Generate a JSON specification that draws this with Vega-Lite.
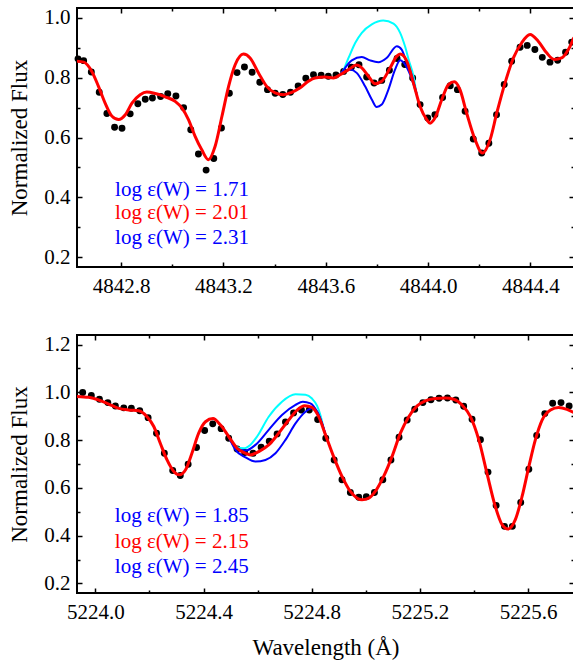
{
  "$schema": "https://vega.github.io/schema/vega-lite/v6.json",
  "padding": {"left": 7, "top": 5, "right": 0, "bottom": 0},
  "spacing": 35,
  "config": {
    "view": {"stroke": "black", "strokeWidth": 2},
    "font": "Liberation Serif",
    "text": {"font": "Liberation Serif"},
    "axis": {"labelFont": "Liberation Serif", "labelFontSize": 21, "labelColor": "black", "titleFont": "Liberation Serif", "titleFontSize": 23, "titleFontWeight": "normal", "titleColor": "black", "domain": false, "grid": false, "tickColor": "black", "tickWidth": 1.5}
  },
  "datasets": {
    "top_dots": [
      {"wl": 4842.631, "flux": 0.863}, {"wl": 4842.653, "flux": 0.857}, {"wl": 4842.683, "flux": 0.819}, {"wl": 4842.714, "flux": 0.751},
      {"wl": 4842.744, "flux": 0.680}, {"wl": 4842.774, "flux": 0.634}, {"wl": 4842.803, "flux": 0.631}, {"wl": 4842.835, "flux": 0.679},
      {"wl": 4842.865, "flux": 0.713}, {"wl": 4842.894, "flux": 0.728}, {"wl": 4842.922, "flux": 0.732}, {"wl": 4842.954, "flux": 0.737},
      {"wl": 4842.982, "flux": 0.746}, {"wl": 4843.014, "flux": 0.739}, {"wl": 4843.044, "flux": 0.700}, {"wl": 4843.072, "flux": 0.626},
      {"wl": 4843.102, "flux": 0.545}, {"wl": 4843.132, "flux": 0.491}, {"wl": 4843.162, "flux": 0.530}, {"wl": 4843.192, "flux": 0.632},
      {"wl": 4843.223, "flux": 0.748}, {"wl": 4843.253, "flux": 0.817}, {"wl": 4843.282, "flux": 0.836}, {"wl": 4843.312, "flux": 0.818},
      {"wl": 4843.342, "flux": 0.785}, {"wl": 4843.372, "flux": 0.760}, {"wl": 4843.402, "flux": 0.748}, {"wl": 4843.432, "flux": 0.744},
      {"wl": 4843.462, "flux": 0.751}, {"wl": 4843.492, "flux": 0.772}, {"wl": 4843.522, "flux": 0.798}, {"wl": 4843.552, "flux": 0.810},
      {"wl": 4843.582, "flux": 0.808}, {"wl": 4843.610, "flux": 0.805}, {"wl": 4843.640, "flux": 0.809}, {"wl": 4843.670, "flux": 0.821},
      {"wl": 4843.700, "flux": 0.835}, {"wl": 4843.730, "flux": 0.843}, {"wl": 4843.760, "flux": 0.802}, {"wl": 4843.789, "flux": 0.782},
      {"wl": 4843.819, "flux": 0.791}, {"wl": 4843.849, "flux": 0.825}, {"wl": 4843.879, "flux": 0.864}, {"wl": 4843.909, "flux": 0.844},
      {"wl": 4843.940, "flux": 0.799}, {"wl": 4843.969, "flux": 0.710}, {"wl": 4843.999, "flux": 0.665}, {"wl": 4844.027, "flux": 0.676},
      {"wl": 4844.057, "flux": 0.734}, {"wl": 4844.087, "flux": 0.773}, {"wl": 4844.115, "flux": 0.760}, {"wl": 4844.145, "flux": 0.688},
      {"wl": 4844.177, "flux": 0.595}, {"wl": 4844.210, "flux": 0.548}, {"wl": 4844.238, "flux": 0.581}, {"wl": 4844.268, "flux": 0.676},
      {"wl": 4844.298, "flux": 0.777}, {"wl": 4844.327, "flux": 0.855}, {"wl": 4844.360, "flux": 0.902}, {"wl": 4844.388, "flux": 0.908},
      {"wl": 4844.418, "flux": 0.894}, {"wl": 4844.447, "flux": 0.868}, {"wl": 4844.477, "flux": 0.852}, {"wl": 4844.507, "flux": 0.858},
      {"wl": 4844.538, "flux": 0.885}, {"wl": 4844.562, "flux": 0.919}
    ],
    "top_models": [
      {"model": "best", "wl": 4842.627, "flux": 0.855}, {"model": "best", "wl": 4842.653, "flux": 0.852}, {"model": "best", "wl": 4842.685, "flux": 0.821},
      {"model": "best", "wl": 4842.711, "flux": 0.771}, {"model": "best", "wl": 4842.737, "flux": 0.715}, {"model": "best", "wl": 4842.764, "flux": 0.671},
      {"model": "best", "wl": 4842.790, "flux": 0.660}, {"model": "best", "wl": 4842.816, "flux": 0.676}, {"model": "best", "wl": 4842.842, "flux": 0.715},
      {"model": "best", "wl": 4842.874, "flux": 0.743}, {"model": "best", "wl": 4842.900, "flux": 0.752}, {"model": "best", "wl": 4842.933, "flux": 0.747},
      {"model": "best", "wl": 4842.972, "flux": 0.736}, {"model": "best", "wl": 4843.011, "flux": 0.721}, {"model": "best", "wl": 4843.037, "flux": 0.699},
      {"model": "best", "wl": 4843.063, "flux": 0.660}, {"model": "best", "wl": 4843.089, "flux": 0.604}, {"model": "best", "wl": 4843.115, "flux": 0.559},
      {"model": "best", "wl": 4843.141, "flux": 0.526}, {"model": "best", "wl": 4843.167, "flux": 0.570}, {"model": "best", "wl": 4843.194, "flux": 0.671},
      {"model": "best", "wl": 4843.220, "flux": 0.771}, {"model": "best", "wl": 4843.246, "flux": 0.844}, {"model": "best", "wl": 4843.278, "flux": 0.879},
      {"model": "best", "wl": 4843.304, "flux": 0.866}, {"model": "best", "wl": 4843.337, "flux": 0.816}, {"model": "best", "wl": 4843.369, "flux": 0.771},
      {"model": "best", "wl": 4843.402, "flux": 0.749}, {"model": "best", "wl": 4843.435, "flux": 0.743}, {"model": "best", "wl": 4843.467, "flux": 0.751},
      {"model": "best", "wl": 4843.500, "flux": 0.766}, {"model": "best", "wl": 4843.532, "flux": 0.788}, {"model": "best", "wl": 4843.558, "flux": 0.799},
      {"model": "best", "wl": 4843.597, "flux": 0.802}, {"model": "best", "wl": 4843.630, "flux": 0.799}, {"model": "best", "wl": 4843.656, "flux": 0.810},
      {"model": "best", "wl": 4843.689, "flux": 0.827}, {"model": "best", "wl": 4843.721, "flux": 0.842}, {"model": "best", "wl": 4843.741, "flux": 0.833},
      {"model": "best", "wl": 4843.767, "flux": 0.805}, {"model": "best", "wl": 4843.793, "flux": 0.780}, {"model": "best", "wl": 4843.819, "flux": 0.788},
      {"model": "best", "wl": 4843.852, "flux": 0.833}, {"model": "best", "wl": 4843.878, "flux": 0.872}, {"model": "best", "wl": 4843.891, "flux": 0.879},
      {"model": "best", "wl": 4843.917, "flux": 0.855}, {"model": "best", "wl": 4843.943, "flux": 0.782}, {"model": "best", "wl": 4843.969, "flux": 0.704},
      {"model": "best", "wl": 4843.995, "flux": 0.660}, {"model": "best", "wl": 4844.008, "flux": 0.648}, {"model": "best", "wl": 4844.027, "flux": 0.665},
      {"model": "best", "wl": 4844.054, "flux": 0.727}, {"model": "best", "wl": 4844.080, "flux": 0.777}, {"model": "best", "wl": 4844.103, "flux": 0.786},
      {"model": "best", "wl": 4844.125, "flux": 0.760}, {"model": "best", "wl": 4844.151, "flux": 0.682}, {"model": "best", "wl": 4844.184, "flux": 0.593},
      {"model": "best", "wl": 4844.213, "flux": 0.548}, {"model": "best", "wl": 4844.243, "flux": 0.593}, {"model": "best", "wl": 4844.269, "flux": 0.682},
      {"model": "best", "wl": 4844.301, "flux": 0.782}, {"model": "best", "wl": 4844.334, "flux": 0.866}, {"model": "best", "wl": 4844.366, "flux": 0.916},
      {"model": "best", "wl": 4844.399, "flux": 0.944}, {"model": "best", "wl": 4844.431, "flux": 0.922}, {"model": "best", "wl": 4844.464, "flux": 0.883},
      {"model": "best", "wl": 4844.494, "flux": 0.861}, {"model": "best", "wl": 4844.523, "flux": 0.866}, {"model": "best", "wl": 4844.549, "flux": 0.894},
      {"model": "best", "wl": 4844.571, "flux": 0.935},
      {"model": "none", "wl": 4843.656, "flux": 0.810}, {"model": "none", "wl": 4843.663, "flux": 0.816}, {"model": "none", "wl": 4843.689, "flux": 0.866},
      {"model": "none", "wl": 4843.715, "flux": 0.916}, {"model": "none", "wl": 4843.741, "flux": 0.950}, {"model": "none", "wl": 4843.780, "flux": 0.978},
      {"model": "none", "wl": 4843.825, "flux": 0.991}, {"model": "none", "wl": 4843.865, "flux": 0.981}, {"model": "none", "wl": 4843.891, "flux": 0.950},
      {"model": "none", "wl": 4843.910, "flux": 0.905}, {"model": "none", "wl": 4843.926, "flux": 0.855}, {"model": "none", "wl": 4843.943, "flux": 0.805},
      {"model": "none", "wl": 4843.955, "flux": 0.746},
      {"model": "low", "wl": 4843.656, "flux": 0.810}, {"model": "low", "wl": 4843.663, "flux": 0.818}, {"model": "low", "wl": 4843.702, "flux": 0.858},
      {"model": "low", "wl": 4843.741, "flux": 0.869}, {"model": "low", "wl": 4843.773, "flux": 0.858}, {"model": "low", "wl": 4843.806, "flux": 0.852},
      {"model": "low", "wl": 4843.838, "flux": 0.866}, {"model": "low", "wl": 4843.878, "flux": 0.905}, {"model": "low", "wl": 4843.897, "flux": 0.894},
      {"model": "low", "wl": 4843.917, "flux": 0.849}, {"model": "low", "wl": 4843.936, "flux": 0.810}, {"model": "low", "wl": 4843.955, "flux": 0.746},
      {"model": "high", "wl": 4843.656, "flux": 0.810}, {"model": "high", "wl": 4843.695, "flux": 0.827}, {"model": "high", "wl": 4843.721, "flux": 0.816},
      {"model": "high", "wl": 4843.754, "flux": 0.771}, {"model": "high", "wl": 4843.780, "flux": 0.727}, {"model": "high", "wl": 4843.799, "flux": 0.702},
      {"model": "high", "wl": 4843.819, "flux": 0.710}, {"model": "high", "wl": 4843.845, "flux": 0.760}, {"model": "high", "wl": 4843.871, "flux": 0.827},
      {"model": "high", "wl": 4843.891, "flux": 0.858}, {"model": "high", "wl": 4843.910, "flux": 0.844}, {"model": "high", "wl": 4843.930, "flux": 0.810},
      {"model": "high", "wl": 4843.955, "flux": 0.746}
    ],
    "top_labels": [
      {"wl": 4842.776, "flux": 0.406, "model": "low", "label": "log ε(W) = 1.71"},
      {"wl": 4842.776, "flux": 0.326, "model": "best", "label": "log ε(W) = 2.01"},
      {"wl": 4842.776, "flux": 0.243, "model": "high", "label": "log ε(W) = 2.31"}
    ],
    "bot_dots": [
      {"wl": 5223.953, "flux": 0.999}, {"wl": 5223.985, "flux": 0.987}, {"wl": 5224.015, "flux": 0.971}, {"wl": 5224.046, "flux": 0.957},
      {"wl": 5224.074, "flux": 0.943}, {"wl": 5224.105, "flux": 0.935}, {"wl": 5224.133, "flux": 0.933}, {"wl": 5224.164, "flux": 0.923},
      {"wl": 5224.195, "flux": 0.894}, {"wl": 5224.226, "flux": 0.829}, {"wl": 5224.255, "flux": 0.745}, {"wl": 5224.286, "flux": 0.673},
      {"wl": 5224.314, "flux": 0.652}, {"wl": 5224.343, "flux": 0.699}, {"wl": 5224.374, "flux": 0.769}, {"wl": 5224.404, "flux": 0.840},
      {"wl": 5224.434, "flux": 0.868}, {"wl": 5224.465, "flux": 0.848}, {"wl": 5224.493, "flux": 0.808}, {"wl": 5224.524, "flux": 0.763},
      {"wl": 5224.552, "flux": 0.748}, {"wl": 5224.583, "flux": 0.745}, {"wl": 5224.613, "flux": 0.770}, {"wl": 5224.643, "flux": 0.795},
      {"wl": 5224.672, "flux": 0.826}, {"wl": 5224.703, "flux": 0.876}, {"wl": 5224.733, "flux": 0.914}, {"wl": 5224.762, "flux": 0.926},
      {"wl": 5224.791, "flux": 0.926}, {"wl": 5224.822, "flux": 0.886}, {"wl": 5224.852, "flux": 0.808}, {"wl": 5224.883, "flux": 0.717},
      {"wl": 5224.912, "flux": 0.634}, {"wl": 5224.943, "flux": 0.581}, {"wl": 5224.974, "flux": 0.561}, {"wl": 5225.002, "flux": 0.563},
      {"wl": 5225.032, "flux": 0.581}, {"wl": 5225.063, "flux": 0.634}, {"wl": 5225.093, "flux": 0.717}, {"wl": 5225.123, "flux": 0.812},
      {"wl": 5225.153, "flux": 0.884}, {"wl": 5225.181, "flux": 0.929}, {"wl": 5225.211, "flux": 0.957}, {"wl": 5225.241, "flux": 0.969},
      {"wl": 5225.271, "flux": 0.975}, {"wl": 5225.302, "flux": 0.976}, {"wl": 5225.333, "flux": 0.968}, {"wl": 5225.362, "flux": 0.942},
      {"wl": 5225.393, "flux": 0.887}, {"wl": 5225.424, "flux": 0.802}, {"wl": 5225.452, "flux": 0.666}, {"wl": 5225.482, "flux": 0.526},
      {"wl": 5225.513, "flux": 0.439}, {"wl": 5225.542, "flux": 0.439}, {"wl": 5225.573, "flux": 0.539}, {"wl": 5225.603, "flux": 0.678},
      {"wl": 5225.632, "flux": 0.819}, {"wl": 5225.662, "flux": 0.911}, {"wl": 5225.691, "flux": 0.954}, {"wl": 5225.722, "flux": 0.957},
      {"wl": 5225.752, "flux": 0.943}
    ],
    "bot_models": [
      {"model": "best", "wl": 5223.932, "flux": 0.983}, {"model": "best", "wl": 5223.975, "flux": 0.979}, {"model": "best", "wl": 5224.012, "flux": 0.968},
      {"model": "best", "wl": 5224.049, "flux": 0.951}, {"model": "best", "wl": 5224.086, "flux": 0.933}, {"model": "best", "wl": 5224.123, "flux": 0.926},
      {"model": "best", "wl": 5224.160, "flux": 0.923}, {"model": "best", "wl": 5224.191, "flux": 0.898}, {"model": "best", "wl": 5224.216, "flux": 0.857},
      {"model": "best", "wl": 5224.240, "flux": 0.787}, {"model": "best", "wl": 5224.265, "flux": 0.717}, {"model": "best", "wl": 5224.290, "flux": 0.669},
      {"model": "best", "wl": 5224.311, "flux": 0.655}, {"model": "best", "wl": 5224.333, "flux": 0.675}, {"model": "best", "wl": 5224.357, "flux": 0.745},
      {"model": "best", "wl": 5224.382, "flux": 0.829}, {"model": "best", "wl": 5224.407, "flux": 0.877}, {"model": "best", "wl": 5224.435, "flux": 0.890},
      {"model": "best", "wl": 5224.462, "flux": 0.864}, {"model": "best", "wl": 5224.493, "flux": 0.815}, {"model": "best", "wl": 5224.524, "flux": 0.766},
      {"model": "best", "wl": 5224.555, "flux": 0.745}, {"model": "best", "wl": 5224.573, "flux": 0.738}, {"model": "best", "wl": 5224.604, "flux": 0.752},
      {"model": "best", "wl": 5224.641, "flux": 0.780}, {"model": "best", "wl": 5224.678, "flux": 0.829}, {"model": "best", "wl": 5224.715, "flux": 0.884},
      {"model": "best", "wl": 5224.746, "flux": 0.926}, {"model": "best", "wl": 5224.774, "flux": 0.944}, {"model": "best", "wl": 5224.801, "flux": 0.937},
      {"model": "best", "wl": 5224.826, "flux": 0.898}, {"model": "best", "wl": 5224.851, "flux": 0.822}, {"model": "best", "wl": 5224.881, "flux": 0.731},
      {"model": "best", "wl": 5224.912, "flux": 0.648}, {"model": "best", "wl": 5224.943, "flux": 0.585}, {"model": "best", "wl": 5224.968, "flux": 0.557},
      {"model": "best", "wl": 5224.986, "flux": 0.550}, {"model": "best", "wl": 5225.011, "flux": 0.557}, {"model": "best", "wl": 5225.035, "flux": 0.585},
      {"model": "best", "wl": 5225.066, "flux": 0.648}, {"model": "best", "wl": 5225.097, "flux": 0.731}, {"model": "best", "wl": 5225.128, "flux": 0.829},
      {"model": "best", "wl": 5225.159, "flux": 0.898}, {"model": "best", "wl": 5225.190, "flux": 0.943}, {"model": "best", "wl": 5225.220, "flux": 0.964},
      {"model": "best", "wl": 5225.257, "flux": 0.974}, {"model": "best", "wl": 5225.294, "flux": 0.976}, {"model": "best", "wl": 5225.325, "flux": 0.971},
      {"model": "best", "wl": 5225.356, "flux": 0.947}, {"model": "best", "wl": 5225.387, "flux": 0.898}, {"model": "best", "wl": 5225.418, "flux": 0.801},
      {"model": "best", "wl": 5225.448, "flux": 0.662}, {"model": "best", "wl": 5225.479, "flux": 0.522}, {"model": "best", "wl": 5225.504, "flux": 0.446},
      {"model": "best", "wl": 5225.526, "flux": 0.428}, {"model": "best", "wl": 5225.553, "flux": 0.467}, {"model": "best", "wl": 5225.578, "flux": 0.564},
      {"model": "best", "wl": 5225.603, "flux": 0.689}, {"model": "best", "wl": 5225.627, "flux": 0.801}, {"model": "best", "wl": 5225.652, "flux": 0.884},
      {"model": "best", "wl": 5225.683, "flux": 0.926}, {"model": "best", "wl": 5225.713, "flux": 0.937}, {"model": "best", "wl": 5225.744, "flux": 0.929},
      {"model": "best", "wl": 5225.770, "flux": 0.915},
      {"model": "none", "wl": 5224.493, "flux": 0.815}, {"model": "none", "wl": 5224.518, "flux": 0.773}, {"model": "none", "wl": 5224.549, "flux": 0.766},
      {"model": "none", "wl": 5224.573, "flux": 0.780}, {"model": "none", "wl": 5224.598, "flux": 0.815}, {"model": "none", "wl": 5224.641, "flux": 0.898},
      {"model": "none", "wl": 5224.690, "flux": 0.961}, {"model": "none", "wl": 5224.740, "flux": 0.992}, {"model": "none", "wl": 5224.777, "flux": 0.990},
      {"model": "none", "wl": 5224.801, "flux": 0.974}, {"model": "none", "wl": 5224.820, "flux": 0.943}, {"model": "none", "wl": 5224.832, "flux": 0.905},
      {"model": "none", "wl": 5224.845, "flux": 0.845},
      {"model": "low", "wl": 5224.493, "flux": 0.815}, {"model": "low", "wl": 5224.518, "flux": 0.769}, {"model": "low", "wl": 5224.555, "flux": 0.756},
      {"model": "low", "wl": 5224.592, "flux": 0.780}, {"model": "low", "wl": 5224.641, "flux": 0.843}, {"model": "low", "wl": 5224.690, "flux": 0.905},
      {"model": "low", "wl": 5224.740, "flux": 0.947}, {"model": "low", "wl": 5224.767, "flux": 0.961}, {"model": "low", "wl": 5224.795, "flux": 0.954},
      {"model": "low", "wl": 5224.820, "flux": 0.919}, {"model": "low", "wl": 5224.838, "flux": 0.870}, {"model": "low", "wl": 5224.851, "flux": 0.822},
      {"model": "high", "wl": 5224.493, "flux": 0.815}, {"model": "high", "wl": 5224.518, "flux": 0.759}, {"model": "high", "wl": 5224.555, "flux": 0.728},
      {"model": "high", "wl": 5224.592, "flux": 0.710}, {"model": "high", "wl": 5224.629, "flux": 0.717}, {"model": "high", "wl": 5224.666, "flux": 0.745},
      {"model": "high", "wl": 5224.703, "flux": 0.801}, {"model": "high", "wl": 5224.740, "flux": 0.870}, {"model": "high", "wl": 5224.777, "flux": 0.919},
      {"model": "high", "wl": 5224.801, "flux": 0.933}, {"model": "high", "wl": 5224.820, "flux": 0.919}, {"model": "high", "wl": 5224.838, "flux": 0.870},
      {"model": "high", "wl": 5224.851, "flux": 0.822}
    ],
    "bot_labels": [
      {"wl": 5224.072, "flux": 0.459, "model": "low", "label": "log ε(W) = 1.85"},
      {"wl": 5224.072, "flux": 0.348, "model": "best", "label": "log ε(W) = 2.15"},
      {"wl": 5224.072, "flux": 0.244, "model": "high", "label": "log ε(W) = 2.45"}
    ]
  },
  "vconcat": [
    {
      "width": 497,
      "height": 259,
      "resolve": {"axis": {"x": "independent", "y": "independent"}},
      "layer": [
        {
          "data": {"name": "top_dots"},
          "mark": {"type": "circle", "size": 48, "color": "black", "opacity": 1},
          "encoding": {
            "x": {"field": "wl", "type": "quantitative", "scale": {"domain": [4842.627, 4844.571], "nice": false, "zero": false},
              "axis": {"orient": "bottom", "values": [4842.8, 4843.2, 4843.6, 4844.0, 4844.4], "format": ".1f", "tickSize": -5, "labelPadding": 13, "title": null}},
            "y": {"field": "flux", "type": "quantitative", "scale": {"domain": [0.167, 1.033], "nice": false, "zero": false},
              "axis": {"orient": "left", "values": [0.2, 0.4, 0.6, 0.8, 1.0], "format": ".1f", "tickSize": -5, "labelPadding": 12, "title": "Normalized Flux", "titlePadding": 12}}
          }
        },
        {
          "data": {"name": "top_models"},
          "transform": [{"filter": "datum.model != 'best'"}],
          "mark": {"type": "line", "strokeWidth": 2, "clip": true, "interpolate": "monotone"},
          "encoding": {
            "x": {"field": "wl", "type": "quantitative", "scale": {"domain": [4842.627, 4844.571], "nice": false, "zero": false},
              "axis": {"orient": "bottom", "values": [4843.0, 4843.4, 4843.8, 4844.2], "labels": false, "tickSize": -3, "title": null}},
            "y": {"field": "flux", "type": "quantitative", "scale": {"domain": [0.167, 1.033], "nice": false, "zero": false},
              "axis": {"orient": "left", "values": [0.3, 0.5, 0.7, 0.9], "labels": false, "tickSize": -3, "title": null}},
            "color": {"field": "model", "type": "nominal", "scale": {"domain": ["none", "low", "best", "high"], "range": ["#00ffff", "#0000ff", "#ff0000", "#0000ff"]}, "legend": null}
          }
        },
        {
          "data": {"name": "top_models"},
          "transform": [{"filter": "datum.model == 'best'"}],
          "mark": {"type": "line", "strokeWidth": 3, "color": "#ff0000", "clip": true, "interpolate": "monotone"},
          "encoding": {
            "x": {"field": "wl", "type": "quantitative", "scale": {"domain": [4842.627, 4844.571], "nice": false, "zero": false},
              "axis": {"orient": "top", "values": [4842.8, 4843.2, 4843.6, 4844.0, 4844.4], "labels": false, "tickSize": -5, "title": null}},
            "y": {"field": "flux", "type": "quantitative", "scale": {"domain": [0.167, 1.033], "nice": false, "zero": false},
              "axis": {"orient": "right", "values": [0.2, 0.4, 0.6, 0.8, 1.0], "labels": false, "tickSize": -5, "title": null}}
          }
        },
        {
          "data": {"name": "top_labels"},
          "mark": {"type": "text", "align": "left", "baseline": "alphabetic", "fontSize": 21, "font": "Liberation Serif"},
          "encoding": {
            "x": {"field": "wl", "type": "quantitative", "scale": {"domain": [4842.627, 4844.571], "nice": false, "zero": false},
              "axis": {"orient": "top", "values": [4843.0, 4843.4, 4843.8, 4844.2], "labels": false, "tickSize": -3, "title": null}},
            "y": {"field": "flux", "type": "quantitative", "scale": {"domain": [0.167, 1.033], "nice": false, "zero": false},
              "axis": {"orient": "right", "values": [0.3, 0.5, 0.7, 0.9], "labels": false, "tickSize": -3, "title": null}},
            "text": {"field": "label"},
            "color": {"field": "model", "type": "nominal", "scale": {"domain": ["none", "low", "best", "high"], "range": ["#00ffff", "#0000ff", "#ff0000", "#0000ff"]}, "legend": null}
          }
        }
      ]
    },
    {
      "width": 497,
      "height": 258,
      "resolve": {"axis": {"x": "independent", "y": "independent"}},
      "layer": [
        {
          "data": {"name": "bot_dots"},
          "mark": {"type": "circle", "size": 48, "color": "black", "opacity": 1},
          "encoding": {
            "x": {"field": "wl", "type": "quantitative", "scale": {"domain": [5223.932, 5225.77], "nice": false, "zero": false},
              "axis": {"orient": "bottom", "values": [5224.0, 5224.4, 5224.8, 5225.2, 5225.6], "format": ".1f", "tickSize": -5, "labelPadding": 13, "title": "Wavelength (Å)", "titlePadding": 14}},
            "y": {"field": "flux", "type": "quantitative", "scale": {"domain": [0.16, 1.24], "nice": false, "zero": false},
              "axis": {"orient": "left", "values": [0.2, 0.4, 0.6, 0.8, 1.0, 1.2], "format": ".1f", "tickSize": -5, "labelPadding": 12, "title": "Normalized Flux", "titlePadding": 12}}
          }
        },
        {
          "data": {"name": "bot_models"},
          "transform": [{"filter": "datum.model != 'best'"}],
          "mark": {"type": "line", "strokeWidth": 2, "clip": true, "interpolate": "monotone"},
          "encoding": {
            "x": {"field": "wl", "type": "quantitative", "scale": {"domain": [5223.932, 5225.77], "nice": false, "zero": false},
              "axis": {"orient": "bottom", "values": [5224.2, 5224.6, 5225.0, 5225.4], "labels": false, "tickSize": -3, "title": null}},
            "y": {"field": "flux", "type": "quantitative", "scale": {"domain": [0.16, 1.24], "nice": false, "zero": false},
              "axis": {"orient": "left", "values": [0.3, 0.5, 0.7, 0.9, 1.1], "labels": false, "tickSize": -3, "title": null}},
            "color": {"field": "model", "type": "nominal", "scale": {"domain": ["none", "low", "best", "high"], "range": ["#00ffff", "#0000ff", "#ff0000", "#0000ff"]}, "legend": null}
          }
        },
        {
          "data": {"name": "bot_models"},
          "transform": [{"filter": "datum.model == 'best'"}],
          "mark": {"type": "line", "strokeWidth": 3, "color": "#ff0000", "clip": true, "interpolate": "monotone"},
          "encoding": {
            "x": {"field": "wl", "type": "quantitative", "scale": {"domain": [5223.932, 5225.77], "nice": false, "zero": false},
              "axis": {"orient": "top", "values": [5224.0, 5224.4, 5224.8, 5225.2, 5225.6], "labels": false, "tickSize": -5, "title": null}},
            "y": {"field": "flux", "type": "quantitative", "scale": {"domain": [0.16, 1.24], "nice": false, "zero": false},
              "axis": {"orient": "right", "values": [0.2, 0.4, 0.6, 0.8, 1.0, 1.2], "labels": false, "tickSize": -5, "title": null}}
          }
        },
        {
          "data": {"name": "bot_labels"},
          "mark": {"type": "text", "align": "left", "baseline": "alphabetic", "fontSize": 21, "font": "Liberation Serif"},
          "encoding": {
            "x": {"field": "wl", "type": "quantitative", "scale": {"domain": [5223.932, 5225.77], "nice": false, "zero": false},
              "axis": {"orient": "top", "values": [5224.2, 5224.6, 5225.0, 5225.4], "labels": false, "tickSize": -3, "title": null}},
            "y": {"field": "flux", "type": "quantitative", "scale": {"domain": [0.16, 1.24], "nice": false, "zero": false},
              "axis": {"orient": "right", "values": [0.3, 0.5, 0.7, 0.9, 1.1], "labels": false, "tickSize": -3, "title": null}},
            "text": {"field": "label"},
            "color": {"field": "model", "type": "nominal", "scale": {"domain": ["none", "low", "best", "high"], "range": ["#00ffff", "#0000ff", "#ff0000", "#0000ff"]}, "legend": null}
          }
        }
      ]
    }
  ]
}
